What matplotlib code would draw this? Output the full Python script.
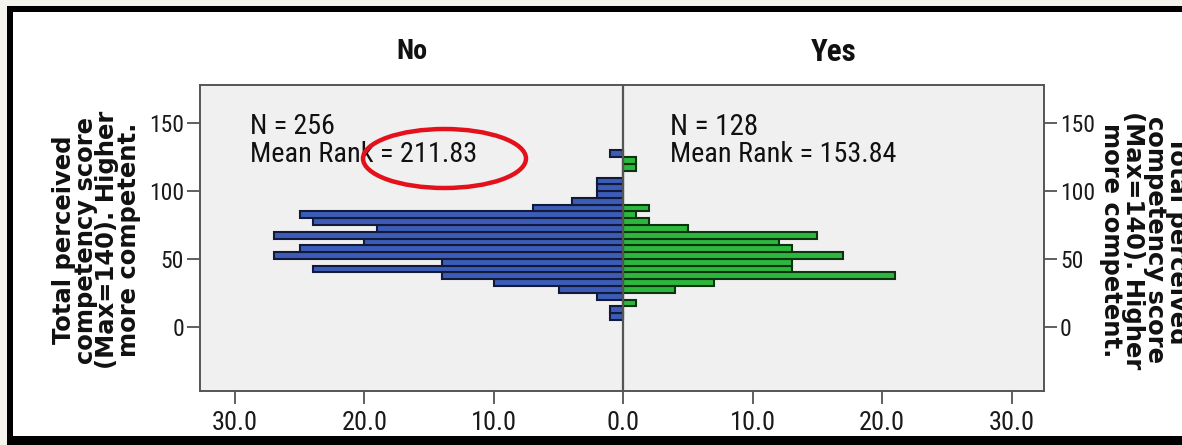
import matplotlib
matplotlib.use("Agg")
import matplotlib.pyplot as plt
from matplotlib import font_manager
from matplotlib.patches import Ellipse, Rectangle
from matplotlib.ticker import FuncFormatter

# lower edge of each score bin (bin width 5)
score_bins = [5, 10, 15, 20, 25, 30, 35, 40, 45, 50, 55, 60, 65,
              70, 75, 80, 85, 90, 95, 100, 105, 110, 115, 120, 125]
no_counts = [1, 1, 0, 2, 5, 10, 14, 24, 14, 27, 25, 20, 27,
             19, 24, 25, 7, 4, 2, 2, 2, 0, 0, 0, 1]
yes_counts = [0, 0, 1, 0, 4, 7, 21, 13, 13, 17, 13, 12, 15,
              5, 2, 1, 2, 0, 0, 0, 0, 0, 1, 1, 0]

groups = ["No", "Yes"]
group_n = [256, 128]
mean_ranks = [211.83, 153.84]
y_ticks = [0, 50, 100, 150]
x_ticks = [-30, -20, -10, 0, 10, 20, 30]
y_label = "Total perceived\ncompetency score\n(Max=140). Higher\nmore competent."

bin_width = 5
centers = [b + bin_width / 2 for b in score_bins]

# SPSS draws in Arial Narrow; take the closest narrow face installed
names = {f.name for f in font_manager.fontManager.ttflist}
narrow = "Liberation Sans"
for cand in ["Liberation Sans Narrow", "Arial Narrow", "Arimo Narrow", "Roboto Condensed",
             "Archivo Narrow", "PT Sans Narrow", "Sofia Sans Condensed", "Barlow Semi Condensed"]:
    if cand in names:
        narrow = cand
        break

fig = plt.figure(figsize=(11.82, 4.45), dpi=100)
fig.patch.set_facecolor("#f4f3ec")

# black picture frame
fig.patches.append(Rectangle((7 / 1182, 0), 1.1, 1 - 6 / 445, transform=fig.transFigure,
                             facecolor="black", edgecolor="none", zorder=-10))
fig.patches.append(Rectangle((13 / 1182, 9 / 445), 1.1, 1 - 21 / 445, transform=fig.transFigure,
                             facecolor="white", edgecolor="none", zorder=-9))

ax = fig.add_axes([200 / 1182, 1 - 391 / 445, 844 / 1182, 306 / 445])
ax.set_facecolor("#f0f0f0")

ax.barh(centers, [-c for c in no_counts], height=bin_width, color="#3c5cb8",
        edgecolor="#111a38", linewidth=1.5, zorder=2)
ax.barh(centers, yes_counts, height=bin_width, color="#2db83d",
        edgecolor="#0c3310", linewidth=1.5, zorder=2)
ax.axvline(0, color="#555555", linewidth=1.6, zorder=3)

ax.set_xlim(-32.7, 32.5)
ax.set_ylim(-47.4, 178.2)

ax.set_yticks(y_ticks)
ax.set_xticks(x_ticks)
ax.xaxis.set_major_formatter(FuncFormatter(lambda v, p: f"{abs(v):.1f}"))
ax.tick_params(axis="y", left=True, right=True, labelleft=True, labelright=True,
               length=9.5, width=1.2, color="#444444", labelsize=18, pad=2)
ax.tick_params(axis="x", length=9.5, width=1.2, color="#444444", labelsize=17, pad=5)
for s in ax.spines.values():
    s.set_color("#555555")
    s.set_linewidth(1.4)

# panel titles and statistics
xl = ax.get_xlim()
mids = [xl[0] / 2, xl[1] / 2]
text_x = [-28.8, 3.6]
fitted = []  # (artist, target width in px)
for i, g in enumerate(groups):
    t = ax.text(mids[i], 1.108, g, transform=ax.get_xaxis_transform(), ha="center", va="center",
                fontsize=21, fontweight="bold", family=narrow, color="#111111")
    fitted.append((t, [31, 46][i]))
    t = ax.text(text_x[i], 147.5, f"N = {group_n[i]}", ha="left", va="center",
                fontsize=20, family=narrow, color="#111111", zorder=4)
    fitted.append((t, [85, 88][i]))
    t = ax.text(text_x[i], 126.8, f"Mean Rank = {mean_ranks[i]:.2f}", ha="left", va="center",
                fontsize=20, family=narrow, color="#111111", zorder=4)
    fitted.append((t, [227, 226][i]))

# axis titles on both sides
for xpix, rot in [(96.5, 90), (1144, 270)]:
    fig.text(xpix / 1182, 1 - 240 / 445, y_label, rotation=rot, ha="center", va="center",
             multialignment="center", fontsize=17.5, fontweight="bold", family="DejaVu Sans",
             linespacing=0.88, color="#111111")

# red highlight round the mean rank
fig.patches.append(Ellipse((444.5 / 1182, 1 - 158.5 / 445), 163 / 1182, 59 / 445,
                           transform=fig.transFigure, fill=False, edgecolor="#e3111b",
                           linewidth=3.2, zorder=10))

# size the narrow texts to the widths measured on the reference
fig.canvas.draw()
r = fig.canvas.get_renderer()
for t, w in fitted:
    t.set_fontsize(t.get_fontsize() * w / t.get_window_extent(r).width)
for lab in ax.get_xticklabels() + ax.get_yticklabels():
    lab.set_family(narrow)
fig.canvas.draw()
ylab = [l for l in ax.get_yticklabels() if l.get_text() == "150"][0]
ysize = 18 * 35 / ylab.get_window_extent(r).width
xlab = [l for l in ax.get_xticklabels() if l.get_text() == "30.0"][0]
xsize = 17 * 46 / xlab.get_window_extent(r).width
ax.tick_params(axis="y", labelsize=ysize, labelcolor="#1a1a1a")
ax.tick_params(axis="x", labelsize=xsize, labelcolor="#1a1a1a")
for tk in ax.xaxis.get_major_ticks() + ax.yaxis.get_major_ticks():
    tk.label1.set_family(narrow)
    tk.label2.set_family(narrow)

fig.savefig("out.png", dpi=100, facecolor=fig.get_facecolor())
